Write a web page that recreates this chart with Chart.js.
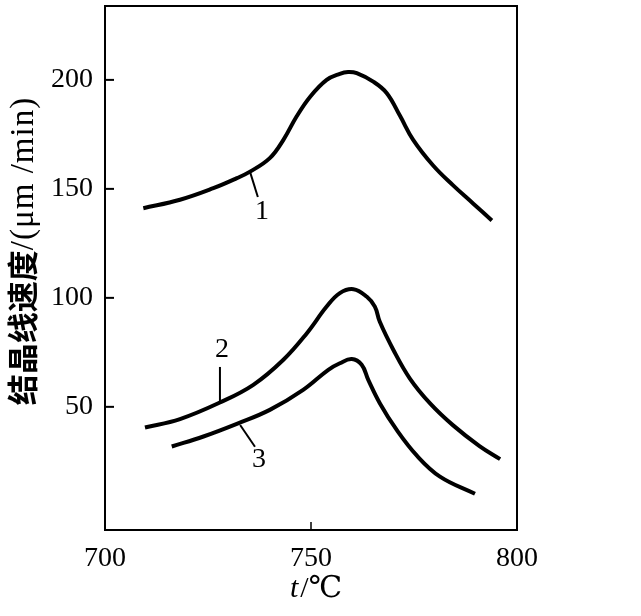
<!DOCTYPE html>
<html>
<head>
<meta charset="utf-8">
<script src="https://cdn.jsdelivr.net/npm/chart.js@4.4.0/dist/chart.umd.min.js"></script>
<style>
  html, body { margin: 0; padding: 0; background: #fff; }
  #wrap { width: 641px; height: 616px; }
</style>
</head>
<body>
<div id="wrap"><canvas id="myChart" width="641" height="616"></canvas></div>
<script>
// curve 1
const temp1 = [709.3, 718.2, 726.3, 732.0, 735.2, 740.0, 743.3, 746.5, 749.8, 753.8, 757.0, 759.0, 761.1, 765.1, 768.4, 771.6, 774.8, 779.7, 784.5, 789.4, 793.9];
const speed1 = [141.1, 145.0, 150.3, 154.9, 157.9, 164.1, 172.5, 183.2, 192.3, 200.0, 202.8, 203.6, 203.1, 199.2, 193.9, 183.5, 172.5, 160.6, 151.6, 143.2, 135.5];
// curve 2
const temp2 = [709.7, 718.2, 727.9, 736.0, 743.3, 749.0, 753.8, 757.0, 760.3, 763.5, 765.5, 766.7, 770.0, 774.0, 778.9, 784.5, 790.9, 795.9];
const speed2 = [40.5, 44.4, 52.0, 60.1, 71.6, 83.8, 96.0, 102.2, 104.0, 100.6, 96.0, 89.0, 76.1, 63.0, 51.6, 41.5, 32.0, 26.0];
// curve 3
const temp3 = [716.2, 723.9, 732.0, 740.0, 748.1, 754.2, 757.0, 759.9, 762.3, 763.9, 766.7, 770.8, 775.7, 781.3, 789.8];
const speed3 = [31.8, 36.4, 42.2, 48.6, 57.8, 67.0, 70.0, 71.9, 69.3, 62.4, 51.7, 39.4, 27.6, 18.0, 10.1];

const xTicks = [700, 750, 800];
const yTicks = [50, 100, 150, 200];

// curve numbers and their leader lines (data units)
const curveNames = ['1', '2', '3'];
const nameAt = [[738.1, 139.4], [728.4, 76.1], [737.4, 25.7]];
const leaderFrom = [[735.2, 157.8], [727.9, 68.3], [732.8, 41.7]];
const leaderTo = [[737.1, 146.3], [727.9, 52.3], [736.4, 31.7]];

const yTitleCjk = '结晶线速度';
const yTitleUnit = '/(μm /min)';

function pts(xs, ys) {
  return xs.map((x, i) => ({ x: x, y: ys[i] }));
}

function curve(xs, ys) {
  return {
    data: pts(xs, ys),
    showLine: true,
    borderColor: '#000',
    borderWidth: 4,
    pointRadius: 0,
    tension: 0.4,
    fill: false
  };
}

const extras = {
  id: 'extras',
  afterDraw(chart) {
    const c = chart.ctx;
    const a = chart.chartArea;
    const xs = chart.scales.x, ys = chart.scales.y;
    c.save();
    c.strokeStyle = '#000';
    c.fillStyle = '#000';

    // top and right edges of the frame
    c.lineWidth = 2;
    c.beginPath();
    c.moveTo(a.left, a.top);
    c.lineTo(a.right, a.top);
    c.lineTo(a.right, a.bottom);
    c.stroke();

    // inward ticks
    c.lineWidth = 2;
    yTicks.forEach(v => {
      const y = ys.getPixelForValue(v);
      c.beginPath();
      c.moveTo(a.left, y);
      c.lineTo(a.left + 9, y);
      c.stroke();
    });
    c.lineWidth = 1.5;
    const tx = xs.getPixelForValue(750);
    c.beginPath();
    c.moveTo(tx, a.bottom);
    c.lineTo(tx, a.bottom - 8);
    c.stroke();

    // curve numbers
    c.lineWidth = 2;
    c.font = '28px "Liberation Serif"';
    c.textAlign = 'center';
    c.textBaseline = 'middle';
    curveNames.forEach((n, i) => {
      c.beginPath();
      c.moveTo(xs.getPixelForValue(leaderFrom[i][0]), ys.getPixelForValue(leaderFrom[i][1]));
      c.lineTo(xs.getPixelForValue(leaderTo[i][0]), ys.getPixelForValue(leaderTo[i][1]));
      c.stroke();
      c.fillText(n, xs.getPixelForValue(nameAt[i][0]), ys.getPixelForValue(nameAt[i][1]));
    });

    // y title, rotated
    c.save();
    c.translate(22, 251);
    c.rotate(-Math.PI / 2);
    c.textAlign = 'left';
    const cjkFont = 'bold 31px "Noto Sans CJK SC"';
    const unitFont = '33px "Liberation Serif"';
    c.font = cjkFont;
    const w1 = c.measureText(yTitleCjk).width;
    c.font = unitFont;
    c.letterSpacing = '1px';
    const w2 = c.measureText(yTitleUnit).width;
    let x0 = -(w1 + w2) / 2;
    c.fillText(yTitleUnit, x0 + w1, 2);
    c.letterSpacing = '0px';
    c.font = cjkFont;
    c.fillText(yTitleCjk, x0, 0);
    c.restore();

    // x title
    c.textAlign = 'left';
    c.font = 'italic 30px "Liberation Serif"';
    const tw = c.measureText('t').width;
    c.font = '30px "Liberation Serif", "DejaVu Serif"';
    const uw = c.measureText('/℃').width;
    const cx = xs.getPixelForValue(751);
    let sx = cx - (tw + uw) / 2;
    c.font = 'italic 30px "Liberation Serif"';
    c.fillText('t', sx, 589);
    c.font = '30px "Liberation Serif", "DejaVu Serif"';
    c.fillText('/℃', sx + tw + 2, 589);
    c.restore();
  }
};

new Chart(document.getElementById('myChart'), {
  type: 'scatter',
  data: {
    datasets: [curve(temp1, speed1), curve(temp2, speed2), curve(temp3, speed3)]
  },
  options: {
    responsive: false,
    animation: false,
    layout: { padding: { top: 6, right: 124, left: 0, bottom: 0 } },
    plugins: { legend: { display: false }, tooltip: { enabled: false } },
    scales: {
      x: {
        type: 'linear',
        min: 700,
        max: 800,
        afterBuildTicks: s => { s.ticks = xTicks.map(v => ({ value: v })); },
        afterFit: s => { s.height = 86; s.paddingLeft = 0; s.paddingRight = 0; },
        grid: { display: false, drawTicks: false },
        border: { display: true, color: '#000', width: 2 },
        ticks: { color: '#000', padding: 12, font: { family: 'Liberation Serif', size: 28 } }
      },
      y: {
        type: 'linear',
        min: -6.5,
        max: 233.9,
        afterBuildTicks: s => { s.ticks = yTicks.map(v => ({ value: v })); },
        afterFit: s => { s.width = 105; s.paddingTop = 0; s.paddingBottom = 0; },
        grid: { display: false, drawTicks: false },
        border: { display: true, color: '#000', width: 2 },
        ticks: { color: '#000', padding: 12, font: { family: 'Liberation Serif', size: 28 } }
      }
    }
  },
  plugins: [extras]
});
</script>
</body>
</html>
